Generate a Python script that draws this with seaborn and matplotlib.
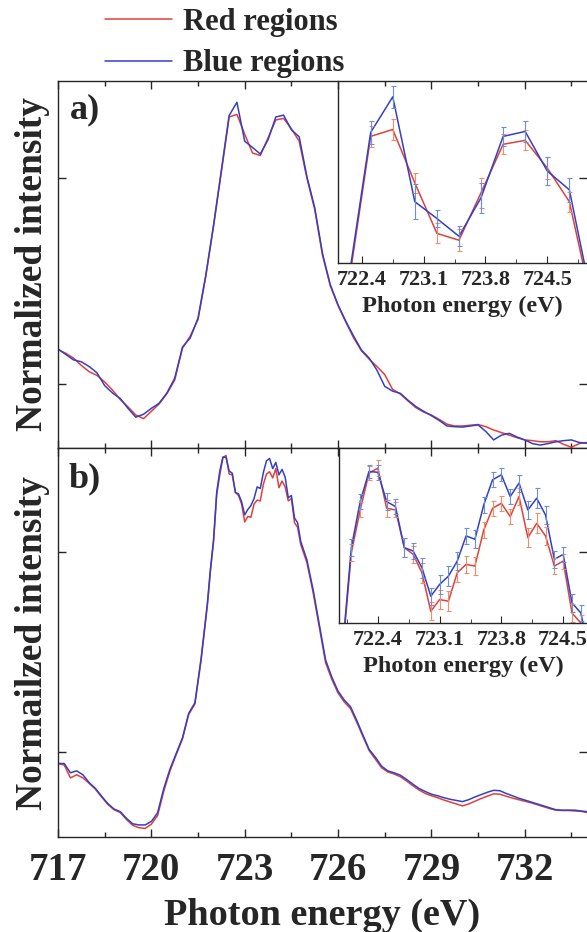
import numpy as np
import pandas as pd
import seaborn as sns
import matplotlib
matplotlib.use("Agg")
import matplotlib.pyplot as plt
from matplotlib.lines import Line2D
from matplotlib.ticker import MultipleLocator, FixedLocator, FormatStrFormatter, NullFormatter

# ---- panel a) : spectra sampled every 0.25 eV ----
energy_a = np.round(np.arange(717.0, 734.01, 0.25), 2)
red_a = [0.268, 0.258, 0.245, 0.225, 0.208, 0.198, 0.180, 0.158, 0.132, 0.112,
         0.090, 0.080, 0.100, 0.120, 0.148, 0.185, 0.272, 0.305, 0.350, 0.468,
         0.605, 0.752, 0.902, 0.909, 0.855, 0.804, 0.797, 0.845, 0.894, 0.898,
         0.870, 0.836, 0.735, 0.650, 0.525, 0.442, 0.388, 0.343, 0.300, 0.265,
         0.242, 0.222, 0.200, 0.160, 0.147, 0.128, 0.110, 0.098, 0.090, 0.078,
         0.065, 0.060, 0.060, 0.062, 0.064, 0.058, 0.049, 0.042, 0.035, 0.028,
         0.022, 0.020, 0.017, 0.017, 0.020, 0.010, 0.002, 0.012, 0.015]
blue_a = [0.270, 0.255, 0.240, 0.235, 0.222, 0.205, 0.170, 0.150, 0.135, 0.108,
          0.084, 0.092, 0.108, 0.122, 0.150, 0.190, 0.275, 0.300, 0.354, 0.471,
          0.608, 0.757, 0.906, 0.942, 0.836, 0.819, 0.801, 0.840, 0.902, 0.907,
          0.867, 0.848, 0.739, 0.655, 0.530, 0.445, 0.390, 0.345, 0.305, 0.267,
          0.245, 0.212, 0.168, 0.155, 0.149, 0.130, 0.113, 0.100, 0.088, 0.075,
          0.060, 0.058, 0.057, 0.060, 0.063, 0.045, 0.022, 0.035, 0.040, 0.030,
          0.022, 0.012, 0.008, 0.012, 0.017, 0.020, 0.022, 0.015, 0.013]
# error bars shown in the inset (722.5 .. 724.75 eV)
err_energy_a = [722.5, 722.75, 723.0, 723.25, 723.5, 723.75, 724.0, 724.25, 724.5, 724.75]
red_err_a = [0.011, 0.011, 0.010, 0.010, 0.011, 0.015, 0.010, 0.010, 0.011, 0.010]
blue_err_a = [0.012, 0.011, 0.018, 0.009, 0.010, 0.015, 0.010, 0.011, 0.014, 0.012]

# ---- panel b) : 0.2 eV steps, 0.1 eV around the L3 edge ----
energy_b = np.round(np.concatenate([np.arange(717.0, 721.81, 0.2),
                                    np.arange(721.9, 724.81, 0.1),
                                    np.arange(725.0, 734.01, 0.2)]), 2)
red_b = [0.189, 0.185, 0.152, 0.160, 0.152, 0.138, 0.123, 0.103, 0.084, 0.070,
         0.063, 0.045, 0.030, 0.024, 0.022, 0.033, 0.055, 0.118, 0.170, 0.212,
         0.252, 0.315, 0.342, 0.455, 0.595,
         0.685, 0.760, 0.880, 0.931, 0.975, 0.981, 0.933, 0.931, 0.886, 0.878,
         0.856, 0.810, 0.824, 0.822, 0.856, 0.866, 0.864, 0.907, 0.933, 0.939,
         0.923, 0.947, 0.898, 0.915, 0.900, 0.864, 0.870, 0.808, 0.796, 0.752,
         0.705, 0.628, 0.538, 0.448, 0.405, 0.370, 0.347, 0.330, 0.295, 0.258,
         0.222, 0.200, 0.178, 0.167, 0.162, 0.155, 0.144, 0.132, 0.121, 0.112,
         0.106, 0.101, 0.095, 0.090, 0.085, 0.080, 0.085, 0.092, 0.099, 0.105,
         0.111, 0.110, 0.105, 0.100, 0.096, 0.092, 0.088, 0.083, 0.078, 0.073,
         0.069, 0.068, 0.068, 0.067, 0.066, 0.063]
blue_b = [0.189, 0.189, 0.165, 0.170, 0.160, 0.140, 0.125, 0.105, 0.086, 0.072,
          0.065, 0.048, 0.034, 0.031, 0.031, 0.040, 0.062, 0.125, 0.175, 0.215,
          0.255, 0.318, 0.345, 0.460, 0.600,
          0.690, 0.765, 0.886, 0.941, 0.977, 0.976, 0.941, 0.935, 0.886, 0.882,
          0.862, 0.828, 0.842, 0.852, 0.870, 0.900, 0.896, 0.937, 0.967, 0.973,
          0.947, 0.963, 0.931, 0.945, 0.925, 0.872, 0.878, 0.820, 0.808, 0.760,
          0.712, 0.635, 0.545, 0.455, 0.411, 0.375, 0.352, 0.335, 0.300, 0.262,
          0.225, 0.205, 0.182, 0.170, 0.165, 0.159, 0.148, 0.136, 0.125, 0.117,
          0.110, 0.106, 0.101, 0.097, 0.094, 0.091, 0.096, 0.103, 0.109, 0.115,
          0.120, 0.119, 0.112, 0.106, 0.100, 0.095, 0.090, 0.085, 0.080, 0.075,
          0.070, 0.069, 0.069, 0.069, 0.067, 0.065]
err_energy_b = np.round(np.arange(721.9, 724.81, 0.1), 2)
red_err_b = [0.008, 0.009, 0.010, 0.009, 0.008, 0.010, 0.010, 0.009, 0.011, 0.010,
             0.012, 0.011, 0.011, 0.012, 0.011, 0.010, 0.011, 0.010, 0.009, 0.009,
             0.009, 0.010, 0.011, 0.012, 0.011, 0.010, 0.009, 0.011, 0.010, 0.009]
blue_err_b = [0.008, 0.009, 0.010, 0.009, 0.008, 0.009, 0.010, 0.009, 0.011, 0.010,
              0.012, 0.010, 0.011, 0.012, 0.011, 0.010, 0.011, 0.010, 0.009, 0.008,
              0.009, 0.010, 0.011, 0.012, 0.011, 0.010, 0.009, 0.011, 0.010, 0.009]

labels = ["Red regions", "Blue regions"]
palette = {"Red regions": "#e0403c", "Blue regions": "#3340c4"}
err_colors = {"Red regions": "#ef8f68", "Blue regions": "#6a90d8"}


def make_df(energy, red, blue):
    n = len(energy)
    return pd.DataFrame({"energy": np.concatenate([energy, energy]),
                         "intensity": list(red) + list(blue),
                         "region": [labels[0]] * n + [labels[1]] * n})


sns.set_style("ticks")
plt.rcParams['font.family'] = ['Liberation Serif', 'DejaVu Serif']
plt.rcParams['font.weight'] = 'bold'
plt.rcParams['axes.labelweight'] = 'bold'
plt.rcParams['axes.linewidth'] = 1.0

W, H = 587, 932
fig = plt.figure(figsize=(W / 100, H / 100), dpi=100)
ax_a = fig.add_axes([58 / W, 1 - 448 / H, 529 / W, 367 / H])
ax_b = fig.add_axes([58 / W, 1 - 837 / H, 529 / W, 389 / H])
in_a = fig.add_axes([338 / W, 1 - 263 / H, 249 / W, 182 / H])
in_b = fig.add_axes([339 / W, 1 - 623 / H, 248 / W, 175 / H])

panels = [
    (ax_a, in_a, make_df(energy_a, red_a, blue_a), [0.174, 0.736], "a)", "Normalized intensity",
     (722.13, 724.95), (0.774, 0.958), err_energy_a, red_err_a, blue_err_a),
    (ax_b, in_b, make_df(energy_b, red_b, blue_b), [0.219, 0.733], "b)", "Normailzed intensity",
     (721.96, 724.77), (0.796, 1.005), err_energy_b, red_err_b, blue_err_b),
]

for ax, ins, df, yt, tag, ylab, ixl, iyl, ee, rerr, berr in panels:
    sns.lineplot(data=df, x="energy", y="intensity", hue="region", hue_order=labels,
                 palette=palette, estimator=None, linewidth=1.1, legend=False, ax=ax)
    ax.set_xlim(717, 734)
    ax.set_ylim(0, 1)
    ax.xaxis.set_major_locator(MultipleLocator(3))
    ax.xaxis.set_minor_locator(MultipleLocator(1.5))
    ax.yaxis.set_major_locator(FixedLocator(yt))
    ax.yaxis.set_major_formatter(NullFormatter())
    ax.tick_params(which='both', direction='in', top=True, right=True, width=1.0)
    ax.tick_params(which='major', length=6)
    ax.tick_params(which='minor', length=3.5)
    ax.tick_params(axis='x', labelsize=28, pad=11)
    ax.spines['right'].set_visible(False)
    ax.set_ylabel(ylab, fontsize=27)
    ax.yaxis.set_label_coords(-0.016, 0.5)
    ax.set_xlabel("")
    ax.text(0.051, 0.922, tag, transform=ax.transAxes, fontsize=26, fontweight='bold',
            ha='center', va='center')

    # inset zoom on the L3 edge
    ins.set_facecolor('none')
    sns.lineplot(data=df, x="energy", y="intensity", hue="region", hue_order=labels,
                 palette=palette, estimator=None, linewidth=1.1, legend=False, ax=ins)
    sub = df[df["energy"].isin(np.round(ee, 2))]
    for lab, err in zip(labels, [rerr, berr]):
        s = sub[sub["region"] == lab]
        ins.errorbar(s["energy"], s["intensity"], yerr=err, fmt='none',
                     ecolor=err_colors[lab], elinewidth=0.8, capsize=1.8, capthick=0.8)
    ins.set_xlim(*ixl)
    ins.set_ylim(*iyl)
    ins.xaxis.set_major_locator(MultipleLocator(0.7))
    ins.xaxis.set_minor_locator(MultipleLocator(0.35))
    ins.xaxis.set_major_formatter(FormatStrFormatter('%.1f'))
    ins.set_yticks([])
    ins.tick_params(which='both', direction='in', labelsize=16, pad=5)
    ins.tick_params(which='major', length=5)
    ins.tick_params(which='minor', length=3)
    ins.spines['right'].set_visible(False)
    ins.spines['top'].set_visible(False)
    ins.set_ylabel("")
    ins.set_xlabel("Photon energy (eV)", fontsize=17.5, labelpad=4)

ax_a.tick_params(axis='x', labelbottom=False)
ax_b.set_xlabel("Photon energy (eV)", fontsize=27.5, labelpad=6)

handles = [Line2D([], [], color=palette[l], linewidth=1.1) for l in labels]
fig.legend(handles, labels, loc="upper left", bbox_to_anchor=(105 / W, 1 - 8 / H),
           frameon=False, handlelength=2.2, handletextpad=0.35, labelspacing=0.4,
           borderpad=0, borderaxespad=0, prop=dict(size=22, weight='bold'))

fig.savefig("out.png", dpi=100)
